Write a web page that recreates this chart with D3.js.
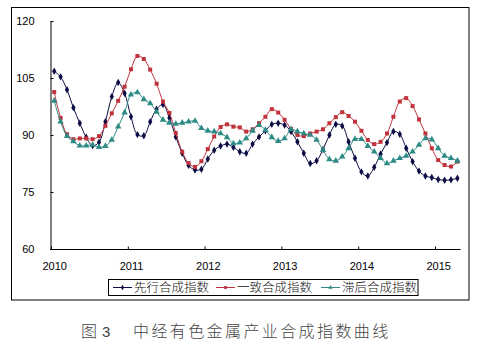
<!DOCTYPE html>
<html><head><meta charset="utf-8">
<script src="https://cdn.jsdelivr.net/npm/d3@7"></script>
<style>
html,body{margin:0;padding:0;background:#fff;}
svg{display:block;}
</style></head>
<body>
<svg id="c" width="488" height="364"></svg>
<script>
const years = ["2010","2011","2012","2013","2014","2015"];
const seriesNames = ["先行合成指数","一致合成指数","滞后合成指数"];
// monthly values Jan 2010 – Apr 2015
const leading = [106.8,105.3,101.9,97.2,93.1,89.4,87.2,88.1,93.5,100.1,103.8,101.0,
  94.8,90.1,89.8,93.5,96.8,98.0,94.5,89.5,85.2,82.0,80.8,81.0,
  83.7,86.0,87.1,87.6,86.8,85.6,85.2,87.6,89.5,91.1,92.8,93.1,
  92.6,90.9,88.2,85.2,82.5,83.2,86.2,90.0,92.8,92.4,88.2,83.9,
  80.3,79.2,81.5,85.0,88.0,90.9,90.2,86.5,83.0,80.5,79.2,78.8,
  78.3,78.1,78.2,78.6];
const coincident = [101.3,94.5,90.2,88.9,89.1,89.1,88.9,89.7,92.4,95.7,99.0,102.7,
  107.3,110.8,110.0,107.2,103.5,98.8,95.8,90.5,85.6,82.6,81.6,83.1,
  86.3,89.6,92.1,92.8,92.2,92.0,90.9,91.5,93.1,94.8,96.8,95.9,
  94.0,91.6,90.0,89.7,90.4,90.9,91.5,93.1,94.7,96.0,95.0,93.5,
  91.1,88.7,87.6,88.2,90.4,94.8,98.8,99.7,97.6,94.1,90.4,86.5,
  83.4,82.1,81.7,83.0];
const lagging = [99.0,93.5,89.7,88.3,87.2,87.2,87.4,86.8,87.1,88.7,92.2,95.9,
  100.6,101.2,99.4,98.3,96.1,94.0,93.2,92.9,93.2,93.5,93.7,91.8,
  91.1,90.9,90.4,89.4,87.8,88.0,89.1,91.1,92.6,91.3,89.4,88.4,
  89.1,91.5,90.9,90.4,90.0,88.7,86.0,83.6,83.2,84.3,86.5,88.9,
  88.9,87.1,85.6,83.9,82.5,83.2,83.9,84.5,85.6,87.4,89.1,88.8,
  86.5,84.5,83.9,83.2];
const yTicks = [60,75,90,105,120];
const caption = "中经有色金属产业合成指数曲线";

const svg = d3.select("#c");
const font = "'Liberation Sans', Arial, sans-serif";
const cjk = "'Noto Sans CJK SC', sans-serif";

// outer frame
svg.append("rect").attr("x",11.5).attr("y",7.5).attr("width",457.5).attr("height",292.5)
  .attr("fill","none").attr("stroke","#000").attr("stroke-width",1);

const n = leading.length;
const x = d3.scaleLinear().domain([0,n]).range([51,460.6]);
const y = d3.scaleLinear().domain([60,120]).range([249,21]);
const cx = i => x(i+0.5);

// axes
const yAxis = d3.axisLeft(y).tickValues(yTicks).tickSize(-3).tickSizeOuter(0).tickPadding(16);
const gy = svg.append("g").attr("transform","translate(50.5,0)").call(yAxis);
gy.selectAll("text").attr("font-family",font).attr("font-size",11).attr("fill","#000");
gy.select(".domain").attr("stroke","#000");

const xAxis = d3.axisBottom(x).tickValues(years.map((d,k)=>k*12))
  .tickFormat((d,k)=>years[k]).tickSize(-3).tickSizeOuter(0).tickPadding(13);
const gx = svg.append("g").attr("transform","translate(0,249.5)").call(xAxis);
gx.select(".domain").attr("d", `M50,0H${x(n)}`).attr("stroke","#000");
gx.selectAll("text").attr("font-family",font).attr("font-size",11).attr("fill","#000")
  .attr("dx", (x(1)-x(0))/2);

const colors = ["#0d0d45","#c0333c","#2e8a84"];
const symbols = [d3.symbolDiamond, d3.symbolSquare, d3.symbolTriangle];
const sizes = [16, 16, 18];
const data = [leading, coincident, lagging];
const line = d3.line().x((d,i)=>cx(i)).y(d=>y(d)).curve(d3.curveCatmullRom.alpha(0.5));

data.forEach((arr,k)=>{
  svg.append("path").attr("d", line(arr)).attr("fill","none")
    .attr("stroke",colors[k]).attr("stroke-width",1);
  svg.append("g").selectAll("path").data(arr).join("path")
    .attr("transform",(d,i)=>`translate(${cx(i)},${y(d)})`)
    .attr("d", d3.symbol().type(symbols[k]).size(sizes[k]))
    .attr("fill",colors[k]);
});

// legend
svg.append("rect").attr("x",108.5).attr("y",279.5).attr("width",309.5).attr("height",16)
  .attr("fill","#fff").attr("stroke","#000").attr("stroke-width",1);
const legX = [113,216,321];
seriesNames.forEach((name,k)=>{
  const g = svg.append("g");
  g.append("line").attr("x1",legX[k]).attr("x2",legX[k]+19).attr("y1",287.5).attr("y2",287.5)
    .attr("stroke",colors[k]).attr("stroke-width",1);
  g.append("path").attr("transform",`translate(${legX[k]+9.5},287.5)`)
    .attr("d", d3.symbol().type(symbols[k]).size(8)).attr("fill",colors[k]);
  g.append("text").attr("x",legX[k]+21).attr("y",292).attr("font-family",cjk)
    .attr("font-size",12.5).attr("font-weight",300).attr("fill","#111").text(name);
});

// caption
svg.append("text").attr("x",81).attr("y",337).attr("font-family",cjk).attr("font-size",16)
  .attr("font-weight",300).attr("fill","#444").text("图");
svg.append("text").attr("x",102).attr("y",337).attr("font-family",font).attr("font-size",15)
  .attr("fill","#444").text("3");
svg.append("text").attr("x",133).attr("y",337).attr("font-family",cjk).attr("font-size",16)
  .attr("font-weight",300).attr("letter-spacing","2.4px").attr("fill","#444").text(caption);
</script>
</body></html>
